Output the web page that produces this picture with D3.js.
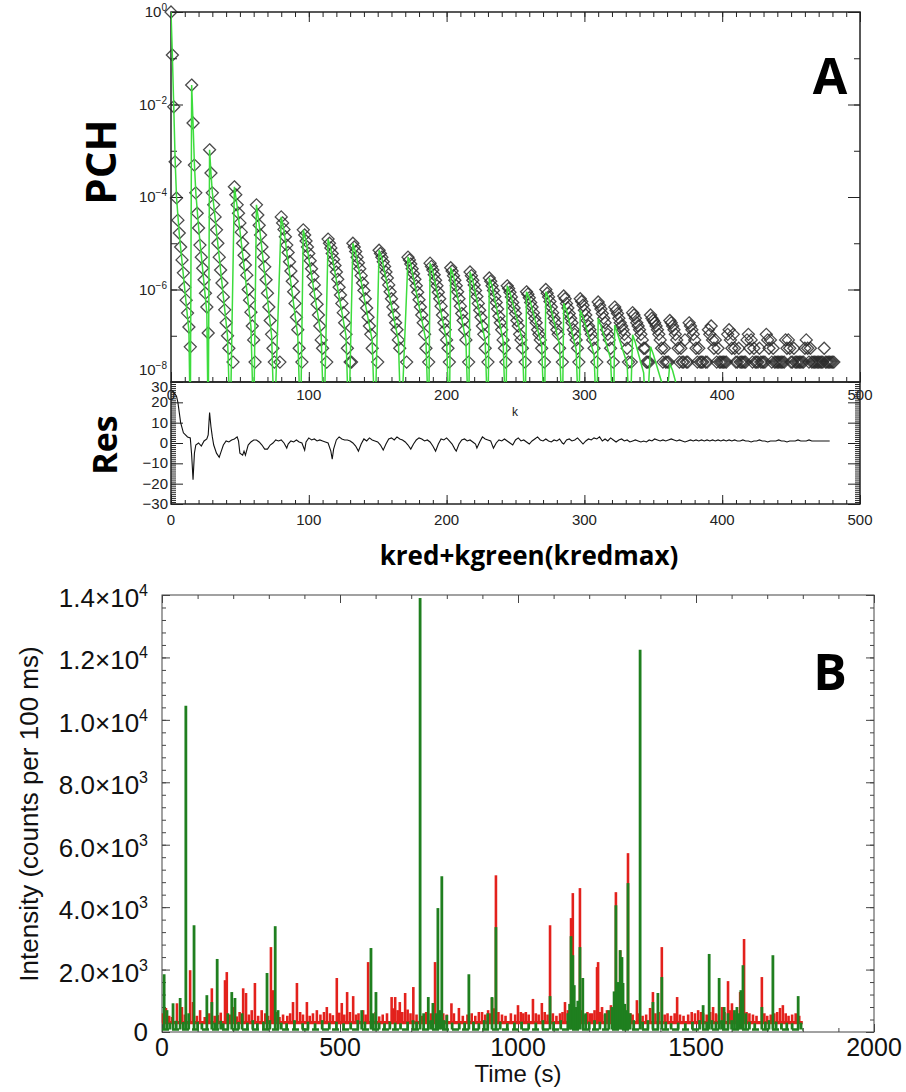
<!DOCTYPE html>
<html><head><meta charset="utf-8">
<script src="https://cdn.jsdelivr.net/npm/d3@7"></script>
<style>body{margin:0;background:#fff}svg{display:block}</style>
</head><body>
<svg id="c" width="906" height="1092"></svg>
<script>
// ---------------- Panel A data ----------------
// PCH blocks: start index k and log10(PCH) for consecutive k (null = empty bin)
const pchStart = [0,15,28,46,62,80,96,114,132,151,172,188,203,217,231,244,258,272,285,297,310,322,335,348,362,376,390,404,418,432,446,460,474];
const pchLog = [
 [0,-0.93,-2.05,-3.24,-4.02,-4.5,-4.78,-5.08,-5.36,-5.64,-5.95,-6.23,-6.51,-6.81,-7.24],
 [-1.58,-2.4,-3.31,-3.91,-4.35,-4.67,-5.04,-5.3,-5.54,-5.79,-6.08,-6.38,-6.94],
 [-2.98,-3.48,-3.91,-4.17,-4.43,-4.71,-5.0,-5.3,-5.58,-5.86,-6.16,-6.44,-6.72,-7.0,-7.27,null,null,-7.57],
 [-3.78,-3.95,-4.17,-4.35,-4.56,-4.76,-5.0,-5.26,-5.47,-5.69,-6.0,-6.23,-6.49,-6.79,-7.09,-7.57],
 [-4.17,-4.39,-4.61,-4.82,-5.08,-5.3,-5.51,-5.79,-6.08,-6.38,-6.67,-6.97,-7.27,-7.57,null,null,null,-7.57],
 [-4.43,-4.56,-4.7,-4.86,-5.04,-5.2,-5.4,-5.6,-5.82,-6.05,-6.3,-6.6,-6.87,-7.27,null,-7.57],
 [-4.71,-4.82,-4.95,-5.08,-5.22,-5.38,-5.55,-5.72,-5.9,-6.1,-6.32,-6.55,-6.79,-7.09,-7.27,null,null,-7.57],
 [-4.91,-5.0,-5.1,-5.22,-5.35,-5.48,-5.62,-5.78,-5.95,-6.12,-6.3,-6.5,-6.72,-6.97,-7.27,null,-7.57,-7.57],
 [-5.0,-5.08,-5.18,-5.3,-5.42,-5.55,-5.7,-5.86,-6.02,-6.2,-6.4,-6.6,-6.79,-6.97,-7.27,null,null,null,-7.57],
 [-5.15,-5.22,-5.3,-5.4,-5.5,-5.62,-5.75,-5.9,-6.05,-6.2,-6.38,-6.55,-6.72,-6.87,-7.09,-7.27,null,null,null,null,-7.57],
 [-5.3,-5.36,-5.45,-5.55,-5.66,-5.78,-5.92,-6.06,-6.22,-6.38,-6.55,-6.72,-6.97,-7.27,null,-7.57],
 [-5.43,-5.5,-5.58,-5.68,-5.8,-5.92,-6.06,-6.2,-6.36,-6.55,-6.72,-6.87,-7.09,-7.27,-7.57],
 [-5.53,-5.6,-5.7,-5.8,-5.92,-6.05,-6.2,-6.36,-6.52,-6.67,-6.87,-7.09,null,-7.57],
 [-5.62,-5.7,-5.8,-5.9,-6.02,-6.15,-6.3,-6.45,-6.6,-6.79,-6.97,-7.27,null,-7.57],
 [-5.75,-5.82,-5.92,-6.02,-6.15,-6.28,-6.42,-6.58,-6.72,-6.87,-7.09,-7.27,-7.57],
 [-5.92,-5.98,-6.06,-6.16,-6.28,-6.4,-6.52,-6.67,-6.79,-6.97,-7.09,-7.27,null,-7.57],
 [-6.05,-6.1,-6.18,-6.28,-6.38,-6.5,-6.62,-6.72,-6.87,-6.97,-7.09,-7.27,null,-7.57],
 [-6.0,-6.08,-6.16,-6.26,-6.38,-6.5,-6.62,-6.72,-6.87,-6.97,-7.27,null,-7.57],
 [-6.14,-6.2,-6.3,-6.4,-6.52,-6.62,-6.72,-6.87,-6.97,-7.09,-7.27,-7.57],
 [-6.2,-6.26,-6.34,-6.45,-6.55,-6.67,-6.79,-6.87,-6.97,-7.09,-7.27,null,-7.57],
 [-6.27,-6.34,-6.42,-6.52,-6.62,-6.72,-6.87,-6.97,-7.09,-7.27,null,-7.57],
 [-6.38,-6.45,-6.52,-6.62,-6.72,-6.79,-6.87,-6.97,-7.09,-7.27,-7.57,null,-7.57],
 [-6.5,-6.55,-6.62,-6.72,-6.79,-6.87,-6.97,-7.09,-7.27,-7.27,-7.57,-7.57,-7.57],
 [-6.55,-6.62,-6.67,-6.72,-6.79,-6.87,-6.97,-7.09,-7.27,-7.57,-7.27,-7.57,-7.57,-7.57],
 [-6.67,-6.72,-6.79,-6.87,-6.97,-7.09,-7.27,-7.57,-7.27,-7.57,-7.57,-7.09,-7.57,-7.57],
 [-6.72,-6.79,-6.87,-6.97,-7.09,-7.27,-7.57,-7.27,-7.57,-7.57,-7.57,null,-7.57,-7.57],
 [-6.87,-6.97,-6.79,-7.09,-7.27,-7.09,-7.57,-7.27,-7.57,-7.57,-7.57,-7.57,-7.57,-7.57],
 [-6.97,-6.87,-7.09,-7.27,-6.97,-7.27,-7.57,-7.57,-7.27,-7.57,-7.57,-7.57,-7.57,-7.57],
 [-7.09,-6.97,-7.27,-7.09,-7.57,-7.27,-7.57,-7.57,-7.57,-7.27,-7.57,-7.57,-7.57,-7.57],
 [-6.97,-7.09,-7.27,-7.09,-7.57,-7.27,-7.57,-7.57,-7.57,-7.57,-7.57,-7.57,-7.57,-7.57],
 [-7.09,-7.27,-7.09,-7.27,-7.57,-7.57,-7.27,-7.57,-7.57,-7.57,-7.57,-7.57,-7.57,-7.57],
 [-7.27,-7.09,-7.27,-7.57,-7.27,-7.57,-7.57,-7.57,-7.57,-7.57,-7.57,-7.57,-7.57,-7.57],
 [-7.27,-7.57,-7.57,-7.57,-7.57,-7.57,-7.57,-7.57]
];
// fit polyline vertices (k, log10 PCH); -9 lies below the axis
const fitK = [0,1,2,3,4,6,13,14, 15,16,17,18,20,26,27, 28,29,30,32,41,43, 46,48,58,60, 62,64,73,75, 80,82,92,94, 96,98,109,111, 114,116,127,129, 132,134,146,148, 151,153,165,167, 172,174,185,187, 188,190,200,202, 203,205,214,216, 217,219,228,230, 231,233,241,243, 244,246,255,257, 258,260,269,271, 272,274,282,284, 285,287,294,296, 297,299,307,309, 310,312,319,321, 322,324,331,333, 335,337,343,345, 348,350,356,358, 362,364,368,370];
const fitLog = [0,-0.95,-2.05,-3.2,-4.0,-4.8,-6.9,-9, -1.58,-2.4,-3.3,-3.9,-4.65,-6.5,-9, -2.98,-3.48,-3.9,-4.45,-7.0,-9, -3.78,-4.2,-6.8,-9, -4.17,-4.6,-7.0,-9, -4.43,-4.72,-7.0,-9, -4.71,-4.95,-7.0,-9, -4.91,-5.12,-7.0,-9, -5.0,-5.2,-7.1,-9, -5.15,-5.32,-7.1,-9, -5.3,-5.46,-7.1,-9, -5.43,-5.6,-7.1,-9, -5.53,-5.7,-7.1,-9, -5.62,-5.8,-7.1,-9, -5.75,-5.92,-7.1,-9, -5.92,-6.06,-7.1,-9, -6.05,-6.18,-7.2,-9, -6.05,-6.18,-7.2,-9, -6.3,-6.45,-7.3,-9, -6.45,-6.6,-7.4,-9, -6.62,-6.78,-7.5,-9, -6.77,-6.95,-7.6,-9, -6.98,-7.15,-7.8,-9, -7.24,-7.4,-8.0,-9, -7.6,-7.75,-8.2,-9];
// residuals
const resK = [0,2,4,5,7,9,12,14,15,16,17,18,20,22,24,26,27,28,29,30,31,33,35,36,38,40,42,44,46,48,49,50,52,53,54,56,58,60,62,64,66,68,70,72,74,76,78,80,82,84,85,87,89,91,93,95,97,98,100,102,104,106,108,110,112,114,116,117,118,120,122,124,126,128,130,132,134,136,138,140,142,144,146,148,150,152,154,156,158,160,162,164,166,168,170,172,174,176,178,180,182,184,186,188,190,192,194,196,198,200,202,204,206,207,209,211,213,215,217,219,221,222,224,226,228,230,232,234,236,238,240,242,244,246,248,250,252,254,256,258,260,262,264,266,268,270,272,274,276,278,280,282,284,285,287,289,291,293,295,297,299,301,303,305,307,309,311,313,315,317,319,321,323,325,327,329,331,333,335,337,339,341,343,345,347,349,351,353,355,357,359,361,363,365,367,369,371,373,375,377,379,381,383,385,387,389,391,393,395,397,399,401,403,405,407,409,411,413,415,417,419,421,423,425,427,429,431,433,435,437,439,441,443,445,447,449,451,453,455,457,459,461,463,465,478];
const resVal = [26,25,23,20,10,5,3,2.5,-6,-18,-5,-1,0,-1.5,1,2,4,15,8,3,-1,-5,-7,-5,-1,1,0.5,1.5,2,3,1,-5,-6,-4,-6,-1,0.5,1.5,1.5,0.5,-1,-3,-3,-1,0,1.5,1,1.5,0,-2.5,-0.5,1,0.5,1.5,0.5,0,-3.5,0.5,2.5,1.5,2,1,1.5,1,0.5,0,-4,-8,-3,1.5,3,2,1.5,1.5,1,0,-1.5,-4,-0.5,2,1,2.5,1.5,1,0.5,-1,-3.5,-0.5,2,2.5,1.5,3,2,1.5,0.5,-1,-3,-0.5,1.5,2.5,2,1,1.5,0.5,-1.5,-4,-0.5,2,1.5,2.5,1,-0.5,-3,-4,-0.5,1.5,2,1,1.5,0.5,-0.5,-2.5,0.5,3,2,1.5,1,-2.5,0,1.5,1,2,1,0,-1,1.5,2.5,1,1.5,0.5,-0.5,1,2,3,1.5,1,2,1,0.5,1.5,1,2,0,-0.5,1.5,2,1,1.5,2.5,1,-0.5,1,2,1.5,2.5,2,3,1,2,1,2.5,1.5,0.5,1.5,2,1,1.5,0.5,1,1.5,1,0.5,1,0.5,1.5,1,2,1.5,1,1.5,1,1.5,2,1.5,1,1.5,1,0.5,1,1.5,1,1.5,1,1.5,1,1.5,1,1.5,1,1.5,1,1.5,1,1.5,1,1.5,1,1,1.5,1,1,0.5,1,1,1.5,1,1,0.5,1,1,1,1.5,1,1,0.5,1,1,1,1.5,1,1,1,1.5,1,1];
const kTicks = [0,100,200,300,400,500];
const resTicks = [30,20,10,0,-10,-20,-30];
const decadeTicks = [0,-2,-4,-6,-8];

// ---------------- Panel B data ----------------
const redBase = 300, greenBase = 80, traceEnd = 1800;
const redT = [3,11,20,28,42,56,64,79,87,98,107,120,133,140,148,157,165,177,182,190,200,210,218,228,236,244,252,261,270,280,290,298,306,312,320,330,340,352,360,368,379,388,396,407,415,424,435,445,455,463,472,480,491,498,505,512,520,528,537,545,552,565,572,579,590,600,610,620,632,645,650,655,662,668,675,683,690,698,706,715,730,742,755,767,778,790,800,813,820,834,845,858,870,880,890,899,908,916,922,927,933,938,945,955,965,980,992,1000,1008,1015,1022,1030,1042,1050,1058,1067,1075,1083,1090,1098,1108,1118,1125,1132,1140,1149,1154,1160,1166,1174,1180,1188,1195,1202,1208,1215,1222,1225,1230,1236,1244,1250,1255,1261,1268,1275,1281,1287,1295,1302,1309,1316,1322,1334,1340,1350,1360,1371,1379,1386,1395,1404,1412,1420,1430,1440,1447,1455,1465,1478,1488,1497,1506,1514,1520,1530,1540,1548,1556,1564,1573,1580,1590,1595,1601,1608,1615,1624,1630,1635,1642,1650,1660,1670,1685,1692,1700,1710,1720,1728,1736,1744,1752,1760,1770,1780,1790];
const redV = [600,770,520,480,920,800,560,1980,960,520,700,480,600,1400,520,540,620,1660,1920,560,800,500,640,1400,1250,560,700,1570,520,700,600,520,2720,1340,640,480,560,520,600,960,1570,640,560,960,520,600,700,560,640,800,600,540,1730,620,930,560,1280,640,1150,560,600,700,560,2240,520,640,500,560,600,1120,760,1120,700,960,640,1250,720,600,1440,560,520,640,600,2240,520,600,560,920,600,770,520,560,600,520,640,640,560,700,600,1090,760,5020,640,560,520,600,560,860,640,600,640,560,1060,600,560,930,640,560,3420,600,520,600,640,960,700,3650,4450,760,640,4610,700,560,640,600,600,700,2080,2240,640,800,560,700,600,860,640,4480,760,2620,700,640,5730,600,560,1020,600,520,560,770,1280,600,640,2720,560,600,520,600,1120,560,520,560,640,600,700,640,600,560,640,800,600,560,800,640,1630,700,920,600,700,1280,760,2980,640,600,560,520,1760,600,520,560,600,640,770,860,600,520,560,600,520];
const greenT = [6,14,22,31,40,51,60,67,75,90,100,112,126,140,148,155,165,172,185,196,205,215,225,240,255,268,285,295,303,318,326,335,350,372,395,410,430,450,470,490,510,530,550,561,570,587,593,601,610,625,640,655,670,690,705,715,725,735,748,755,761,770,775,780,786,792,800,815,835,850,862,875,890,905,915,927,938,950,970,990,1010,1030,1050,1070,1090,1100,1120,1140,1145,1149,1154,1158,1162,1168,1174,1182,1190,1200,1215,1230,1245,1255,1264,1270,1275,1281,1287,1292,1295,1300,1305,1309,1315,1325,1343,1350,1365,1379,1393,1404,1415,1430,1450,1470,1490,1510,1520,1530,1537,1545,1556,1565,1572,1579,1590,1600,1608,1615,1620,1626,1632,1640,1650,1665,1685,1695,1705,1716,1725,1740,1755,1770,1787,1795];
const greenV = [1850,700,300,920,360,1090,320,10450,600,3420,330,280,1180,960,300,2340,360,280,600,1280,1090,320,600,300,380,280,330,1890,380,3390,700,300,280,380,280,330,280,380,300,330,280,300,380,700,330,2690,600,1280,300,280,330,300,280,330,380,330,13900,600,1120,380,930,600,3970,700,4990,380,540,300,280,300,1850,330,280,380,600,1120,3360,330,280,300,330,280,300,380,1150,330,380,600,900,3070,2460,1500,800,1000,2720,1730,600,330,380,330,600,700,800,1300,4060,1600,2620,2400,1570,900,700,4770,600,380,12250,330,380,960,1250,1760,330,280,300,280,330,380,860,330,2500,380,330,1730,380,800,600,380,700,800,600,1340,2140,600,330,280,800,330,380,2460,330,280,300,280,1150,300];
const timeTicks = [0,500,1000,1500,2000];
const intTicks = [0,2000,4000,6000,8000,10000,12000,14000];

// ---------------- drawing ----------------
const svg = d3.select("#c");
const ax = "#222";

// ===== Panel A =====
const xA = d3.scaleLinear().domain([0,500]).range([171,860]);
const yA = d3.scaleLog().domain([1e-8,1]).range([382,12]);
const yR = d3.scaleLinear().domain([-30,30]).range([504,382]);
const gA = svg.append("g");
svg.append("clipPath").attr("id","clipA").append("rect")
  .attr("x",xA(0)).attr("y",yA(1)).attr("width",xA(500)-xA(0)).attr("height",yA(1e-8)-yA(1));

function tickAxis(gen, vals, size, tr){
  const g = gA.append("g").attr("transform",tr)
    .call(gen.tickValues(vals).tickSize(size).tickFormat(""));
  g.select(".domain").remove();
  g.selectAll("line").attr("stroke",ax).attr("stroke-width",1);
  return g;
}
const k10 = d3.range(0,501,10), k100 = d3.range(0,501,100);
tickAxis(d3.axisBottom(xA), k10, 5, `translate(0,${yA(1)})`);
tickAxis(d3.axisBottom(xA), k100, 10, `translate(0,${yA(1)})`);
tickAxis(d3.axisTop(xA), k10, 5, `translate(0,${yA(1e-8)})`);
tickAxis(d3.axisTop(xA), k100, 10, `translate(0,${yA(1e-8)})`);
const dec = d3.range(0,-9,-1).map(e=>Math.pow(10,e));
const decMaj = decadeTicks.map(e=>Math.pow(10,e));
tickAxis(d3.axisRight(yA), dec, 6, `translate(${xA(0)},0)`);
tickAxis(d3.axisRight(yA), decMaj, 12, `translate(${xA(0)},0)`);
tickAxis(d3.axisLeft(yA), dec, 6, `translate(${xA(500)},0)`);
tickAxis(d3.axisLeft(yA), decMaj, 12, `translate(${xA(500)},0)`);
const r1 = d3.range(-30,31,1);
tickAxis(d3.axisRight(yR), r1, 5, `translate(${xA(0)},0)`);
tickAxis(d3.axisRight(yR), resTicks, 12, `translate(${xA(0)},0)`);
tickAxis(d3.axisLeft(yR), r1, 5, `translate(${xA(500)},0)`);
tickAxis(d3.axisLeft(yR), resTicks, 12, `translate(${xA(500)},0)`);
tickAxis(d3.axisTop(xA), k10, 4, `translate(0,${yR(-30)})`);
tickAxis(d3.axisTop(xA), k100, 9, `translate(0,${yR(-30)})`);
gA.append("rect").attr("x",xA(0)).attr("y",yA(1)).attr("width",xA(500)-xA(0)).attr("height",yA(1e-8)-yA(1))
  .attr("fill","none").attr("stroke",ax).attr("stroke-width",1.5);
gA.append("rect").attr("x",xA(0)).attr("y",yR(30)).attr("width",xA(500)-xA(0)).attr("height",yR(-30)-yR(30))
  .attr("fill","none").attr("stroke",ax).attr("stroke-width",1.5);

// diamonds
const pts = [];
pchStart.forEach((s,i)=>pchLog[i].forEach((v,j)=>{ if(v!==null) pts.push({k:s+j, p:Math.pow(10,v)}); }));
gA.append("g").selectAll("path").data(pts).join("path")
  .attr("d","M0,-6L6,0L0,6L-6,0Z")
  .attr("transform",d=>`translate(${xA(d.k)},${yA(d.p)})`)
  .attr("fill","none").attr("stroke","#2a2a2a").attr("stroke-opacity",0.85).attr("stroke-width",1.3);
// fit
const fitPts = fitK.map((k,i)=>({k, p:Math.pow(10,fitLog[i])}));
gA.append("path").datum(fitPts).attr("clip-path","url(#clipA)")
  .attr("d",d3.line().x(d=>xA(d.k)).y(d=>yA(d.p)))
  .attr("fill","none").attr("stroke","#3ddc3d").attr("stroke-width",1.5);
// residual line
gA.append("path").datum(resK.map((k,i)=>({k, r:resVal[i]})))
  .attr("d",d3.line().x(d=>xA(d.k)).y(d=>yR(d.r)))
  .attr("fill","none").attr("stroke","#111").attr("stroke-width",1.1);

// panel A labels
const fA = "'Liberation Sans', Arial, sans-serif";
decadeTicks.forEach(e=>{
  const t = gA.append("text").attr("x",167).attr("y",yA(Math.pow(10,e))+(e===-8?-7:5))
    .attr("text-anchor","end").attr("font-family",fA).attr("font-size",15).attr("fill","#222");
  t.append("tspan").text("10");
  t.append("tspan").attr("dy",-6).attr("font-size",10).text(e===0?"0":"\u2212"+(-e));
});
kTicks.forEach(k=>{
  gA.append("text").attr("x",xA(k)).attr("y",400).attr("text-anchor","middle")
    .attr("font-family",fA).attr("font-size",15).attr("fill","#222").text(k);
  gA.append("text").attr("x",xA(k)).attr("y",525).attr("text-anchor","middle")
    .attr("font-family",fA).attr("font-size",15).attr("fill","#222").text(k);
});
resTicks.forEach(r=>{
  gA.append("text").attr("x",168).attr("y",yR(r)+(r===30?10:5)).attr("text-anchor","end")
    .attr("font-family",fA).attr("font-size",15).attr("fill","#222").text(r<0?"\u2212"+(-r):r);
});
gA.append("text").attr("x",515).attr("y",416).attr("text-anchor","middle")
  .attr("font-family",fA).attr("font-size",12).attr("fill","#222").text("k");

const fBold = "'Open Sans', 'DejaVu Sans', sans-serif";
svg.append("text").attr("transform","translate(116,162) rotate(-90)").attr("text-anchor","middle")
  .attr("font-family",fBold).attr("font-weight",700).attr("font-size",42).text("PCH");
svg.append("text").attr("transform","translate(117,445) rotate(-90)").attr("text-anchor","middle")
  .attr("font-family",fBold).attr("font-weight",700).attr("font-size",34).text("Res");
svg.append("text").attr("x",529).attr("y",565).attr("text-anchor","middle")
  .attr("font-family",fBold).attr("font-weight",700).attr("font-size",26).text("kred+kgreen(kredmax)");
svg.append("text").attr("x",830).attr("y",94).attr("text-anchor","middle")
  .attr("font-family",fBold).attr("font-weight",700).attr("font-size",50).text("A");
svg.append("text").attr("x",830).attr("y",690).attr("text-anchor","middle")
  .attr("font-family",fBold).attr("font-weight",700).attr("font-size",50).text("B");

// ===== Panel B =====
const xB = d3.scaleLinear().domain([0,2000]).range([162,874]);
const yB = d3.scaleLinear().domain([0,14000]).range([1032,595]);
const gB = svg.append("g");
const bx = "#444";
function tickB(gen, vals, size, tr){
  const g = gB.append("g").attr("transform",tr)
    .call(gen.tickValues(vals).tickSize(size).tickFormat(""));
  g.select(".domain").remove();
  g.selectAll("line").attr("stroke",bx).attr("stroke-width",1);
}
const t100 = d3.range(0,2001,100), i400 = d3.range(0,14001,400);
tickB(d3.axisTop(xB), t100, 4, `translate(0,${yB(0)})`);
tickB(d3.axisTop(xB), timeTicks, 8, `translate(0,${yB(0)})`);
tickB(d3.axisBottom(xB), t100, 4, `translate(0,${yB(14000)})`);
tickB(d3.axisBottom(xB), timeTicks, 8, `translate(0,${yB(14000)})`);
tickB(d3.axisRight(yB), i400, 4, `translate(${xB(0)},0)`);
tickB(d3.axisRight(yB), intTicks, 8, `translate(${xB(0)},0)`);
tickB(d3.axisLeft(yB), i400, 4, `translate(${xB(2000)},0)`);
tickB(d3.axisLeft(yB), intTicks, 8, `translate(${xB(2000)},0)`);
gB.append("rect").attr("x",xB(0)).attr("y",yB(14000)).attr("width",xB(2000)-xB(0)).attr("height",yB(0)-yB(14000))
  .attr("fill","none").attr("stroke",bx).attr("stroke-width",1);

const red = "#e3211c", green = "#1f7f1f";
gB.append("line").attr("x1",xB(0)).attr("x2",xB(traceEnd)).attr("y1",yB(redBase)).attr("y2",yB(redBase))
  .attr("stroke",red).attr("stroke-width",3.2);
gB.append("g").selectAll("line").data(redT.map((t,i)=>({t,v:redV[i]}))).join("line")
  .attr("x1",d=>xB(d.t)).attr("x2",d=>xB(d.t)).attr("y1",yB(redBase)).attr("y2",d=>yB(d.v))
  .attr("stroke",red).attr("stroke-width",2.6);
gB.append("line").attr("x1",xB(0)).attr("x2",xB(traceEnd)).attr("y1",yB(greenBase)).attr("y2",yB(greenBase))
  .attr("stroke",green).attr("stroke-width",2.5).attr("stroke-dasharray","7,3");
gB.append("g").selectAll("line").data(greenT.map((t,i)=>({t,v:greenV[i]}))).join("line")
  .attr("x1",d=>xB(d.t)).attr("x2",d=>xB(d.t)).attr("y1",yB(greenBase)).attr("y2",d=>yB(d.v))
  .attr("stroke",green).attr("stroke-width",2.8);

const fB = "'Liberation Sans', Arial, Helvetica, sans-serif";
intTicks.forEach(v=>{
  const t = gB.append("text").attr("x",148).attr("text-anchor","end")
    .attr("font-family",fB).attr("font-size",26).attr("fill","#111");
  if(v===0){ t.attr("y",yB(v)+9).text("0"); return; }
  const e = Math.floor(Math.log10(v));
  t.attr("y",yB(v)+12);
  t.append("tspan").text((v/Math.pow(10,e)).toFixed(1)+"\u00d710");
  t.append("tspan").attr("dy",-11).attr("font-size",16).text(e);
});
timeTicks.forEach(v=>{
  gB.append("text").attr("x",xB(v)).attr("y",1056).attr("text-anchor","middle")
    .attr("font-family",fB).attr("font-size",25).attr("fill","#111").text(v);
});
gB.append("text").attr("x",518).attr("y",1082).attr("text-anchor","middle")
  .attr("font-family",fB).attr("font-size",24).attr("fill","#111").text("Time (s)");
gB.append("text").attr("transform","translate(38,814) rotate(-90)").attr("text-anchor","middle")
  .attr("font-family",fB).attr("font-size",26).attr("fill","#111").text("Intensity (counts per 100 ms)");
</script>
</body></html>
